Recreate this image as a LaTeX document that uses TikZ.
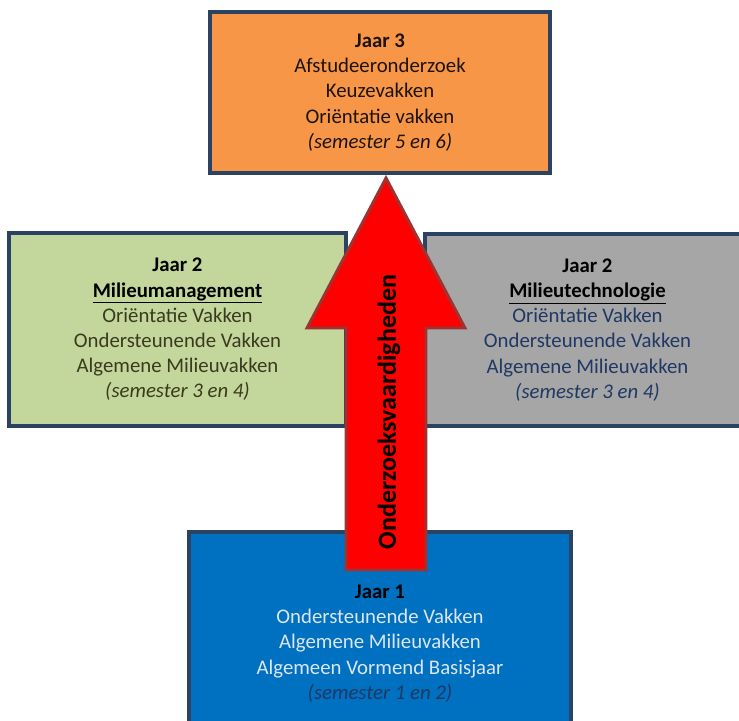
\documentclass[tikz,border=0pt]{standalone}
\usepackage{fontspec}
\setmainfont{Carlito}
\usetikzlibrary{positioning}
\definecolor{boxline}{HTML}{2B4263}
\definecolor{jaarorange}{HTML}{F79646}
\definecolor{jaargreen}{HTML}{C3D69B}
\definecolor{jaargray}{HTML}{A6A6A6}
\definecolor{jaarblue}{HTML}{0070C0}
\definecolor{arrowred}{HTML}{FF0000}
\definecolor{arrowline}{HTML}{9B3533}
\definecolor{navytext}{HTML}{1F3864}
\definecolor{olivetext}{HTML}{3A3A1E}
\definecolor{lighttext}{HTML}{DCE6F2}
\tikzset{
  jaarbox/.style={draw=boxline,line width=3pt,align=center,inner sep=0pt,
    font=\fontsize{15.6}{18.9}\selectfont},
  arrowbody/.style={fill=arrowred,draw=arrowline,line width=2.2pt,line join=miter}
}

\begin{document}
\begin{tikzpicture}[x=.75pt,y=-.75pt]
\clip (0,0) rectangle (739,721);
\fill[white] (0,0) rectangle (739,721);
\node[jaarbox,fill=jaarorange,minimum width=255pt,minimum height=120.75pt,
  text=black!85!brown] (j3) at (380,92.5)
  {\textbf{Jaar 3}\\Afstudeeronderzoek\\Keuzevakken\\Oriëntatie vakken\\
   \textit{(semester 5 en 6)}};
\node[jaarbox,fill=jaargreen,minimum width=252.75pt,minimum height=144.75pt,
  text=olivetext] (j2m) at (177.5,329.5)
  {\textcolor{black}{\textbf{Jaar 2}}\\\textcolor{black}{\underline{\textbf{Milieumanagement}}}\\
   Oriëntatie Vakken\\Ondersteunende Vakken\\Algemene Milieuvakken\\
   \textit{(semester 3 en 4)}};
\node[jaarbox,fill=jaargray,minimum width=243.75pt,minimum height=144pt,
  text=navytext] (j2t) at (587.5,330)
  {\textcolor{black}{\textbf{Jaar 2}}\\\textcolor{black}{\underline{\textbf{Milieutechnologie}}}\\
   Oriëntatie Vakken\\Ondersteunende Vakken\\Algemene Milieuvakken\\
   \textit{(semester 3 en 4)}};
\node[jaarbox,fill=jaarblue,minimum width=286.5pt,minimum height=167.25pt,
  text=lighttext] (j1) at (380,643.5)
  {\textcolor{black}{\textbf{Jaar 1}}\\Ondersteunende Vakken\\Algemene Milieuvakken\\
   Algemeen Vormend Basisjaar\\\textcolor{navytext}{\textit{(semester 1 en 2)}}};
\coordinate (tip) at (386,178);
\draw[arrowbody] (tip) -- ++(79,150) -- ++(-39,0) -- ++(0,242) --
  ++(-80,0) -- ++(0,-242) -- ++(-39,0) -- cycle;
\node[rotate=90,inner sep=0pt,font=\fontsize{19.5}{23}\selectfont\bfseries]
  (skills) at (389,412) {Onderzoeksvaardigheden};
\end{tikzpicture}
\end{document}
